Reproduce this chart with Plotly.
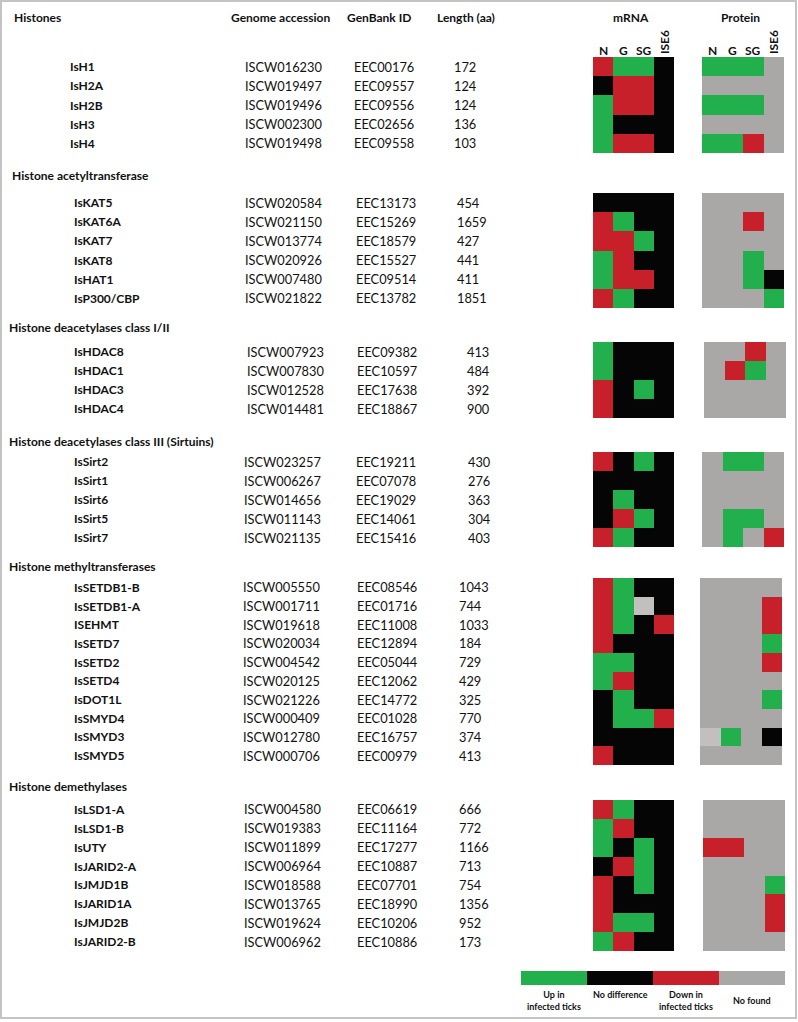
import plotly.graph_objects as go

# ---------------- data ----------------
section_titles = ["Histones", "Histone acetyltransferase", "Histone deacetylases class I/II",
                  "Histone deacetylases class III (Sirtuins)", "Histone methyltransferases",
                  "Histone demethylases"]

names_h = ["IsH1", "IsH2A", "IsH2B", "IsH3", "IsH4"]
acc_h = ["ISCW016230", "ISCW019497", "ISCW019496", "ISCW002300", "ISCW019498"]
gb_h = ["EEC00176", "EEC09557", "EEC09556", "EEC02656", "EEC09558"]
len_h = [172, 124, 124, 136, 103]
mrna_h = ["RGGK", "KRRK", "GRRK", "GKKK", "GRRK"]
prot_h = ["GGGA", "AAAA", "GGGA", "AAAA", "GGRA"]

names_hat = ["IsKAT5", "IsKAT6A", "IsKAT7", "IsKAT8", "IsHAT1", "IsP300/CBP"]
acc_hat = ["ISCW020584", "ISCW021150", "ISCW013774", "ISCW020926", "ISCW007480", "ISCW021822"]
gb_hat = ["EEC13173", "EEC15269", "EEC18579", "EEC15527", "EEC09514", "EEC13782"]
len_hat = [454, 1659, 427, 441, 411, 1851]
mrna_hat = ["KKKK", "RGKK", "RRGK", "GRKK", "GRRK", "RGKK"]
prot_hat = ["AAAA", "AARA", "AAAA", "AAGA", "AAGK", "AAAG"]

names_hdac = ["IsHDAC8", "IsHDAC1", "IsHDAC3", "IsHDAC4"]
acc_hdac = ["ISCW007923", "ISCW007830", "ISCW012528", "ISCW014481"]
gb_hdac = ["EEC09382", "EEC10597", "EEC17638", "EEC18867"]
len_hdac = [413, 484, 392, 900]
mrna_hdac = ["GKKK", "GKKK", "RKGK", "RKKK"]
prot_hdac = ["AARA", "ARGA", "AAAA", "AAAA"]

names_sirt = ["IsSirt2", "IsSirt1", "IsSirt6", "IsSirt5", "IsSirt7"]
acc_sirt = ["ISCW023257", "ISCW006267", "ISCW014656", "ISCW011143", "ISCW021135"]
gb_sirt = ["EEC19211", "EEC07078", "EEC19029", "EEC14061", "EEC15416"]
len_sirt = [430, 276, 363, 304, 403]
mrna_sirt = ["RKGK", "KKKK", "KGKK", "KRGK", "RGKK"]
prot_sirt = ["AGGA", "AAAA", "AAAA", "AGGA", "AGAR"]

names_hmt = ["IsSETDB1-B", "IsSETDB1-A", "ISEHMT", "IsSETD7", "IsSETD2", "IsSETD4",
             "IsDOT1L", "IsSMYD4", "IsSMYD3", "IsSMYD5"]
acc_hmt = ["ISCW005550", "ISCW001711", "ISCW019618", "ISCW020034", "ISCW004542", "ISCW020125",
           "ISCW021226", "ISCW000409", "ISCW012780", "ISCW000706"]
gb_hmt = ["EEC08546", "EEC01716", "EEC11008", "EEC12894", "EEC05044", "EEC12062",
          "EEC14772", "EEC01028", "EEC16757", "EEC00979"]
len_hmt = [1043, 744, 1033, 184, 729, 429, 325, 770, 374, 413]
mrna_hmt = ["RGKK", "RGLK", "RGKR", "RKKK", "GGKK", "GRKK", "KGKK", "KGGR", "KKKK", "RKKK"]
prot_hmt = ["AAAA", "AAAR", "AAAR", "AAAG", "AAAR", "AAAA", "AAAG", "AAAA", "LGAK", "AAAA"]

names_hdm = ["IsLSD1-A", "IsLSD1-B", "IsUTY", "IsJARID2-A", "IsJMJD1B", "IsJARID1A",
             "IsJMJD2B", "IsJARID2-B"]
acc_hdm = ["ISCW004580", "ISCW019383", "ISCW011899", "ISCW006964", "ISCW018588", "ISCW013765",
           "ISCW019624", "ISCW006962"]
gb_hdm = ["EEC06619", "EEC11164", "EEC17277", "EEC10887", "EEC07701", "EEC18990",
          "EEC10206", "EEC10886"]
len_hdm = [666, 772, 1166, 713, 754, 1356, 952, 173]
mrna_hdm = ["RGKK", "GRKK", "GKGK", "KRGK", "RKGK", "RKKK", "RGGK", "GRKK"]
prot_hdm = ["AAAA", "AAAA", "RRAA", "AAAA", "AAAG", "AAAR", "AAAR", "AAAA"]

column_headers = ["Genome accession", "GenBank ID", "Length (aa)"]
block_headers = ["mRNA", "Protein"]
sample_labels = ["N", "G", "SG", "ISE6"]
legend_codes = ["G", "K", "R", "A"]
legend_labels = ["Up in<br>infected ticks", "No difference", "Down in<br>infected ticks", "No found"]

# ---------------- styles / layout ----------------
code_val = {"G": 0, "K": 1, "R": 2, "A": 3, "L": 4}
GREEN, BLACK, RED, GRAY, LGRAY = "#21b04b", "#050505", "#c8202a", "#aaa7a7", "#c2bfbf"
cs = [[0.0, GREEN], [0.2, GREEN], [0.2, BLACK], [0.4, BLACK], [0.4, RED], [0.6, RED],
      [0.6, GRAY], [0.8, GRAY], [0.8, LGRAY], [1.0, LGRAY]]

FONT = "Lato"
FS = 12
FS_REG = 12.8

sections = [
    dict(names=names_h, acc=acc_h, gb=gb_h, ln=len_h, m=mrna_h, p=prot_h,
         title_xy=(12, 17), top=57, bottom=153, name_x=68, acc_x=243, gb_x=352, len_x=452, p_left=702),
    dict(names=names_hat, acc=acc_hat, gb=gb_hat, ln=len_hat, m=mrna_hat, p=prot_hat,
         title_xy=(10, 175), top=193, bottom=308, name_x=72, acc_x=243, gb_x=354, len_x=455, p_left=702),
    dict(names=names_hdac, acc=acc_hdac, gb=gb_hdac, ln=len_hdac, m=mrna_hdac, p=prot_hdac,
         title_xy=(7, 327), top=342, bottom=418, name_x=72, acc_x=245, gb_x=355, len_x=465, p_left=704),
    dict(names=names_sirt, acc=acc_sirt, gb=gb_sirt, ln=len_sirt, m=mrna_sirt, p=prot_sirt,
         title_xy=(7, 441), top=452, bottom=547, name_x=72, acc_x=242, gb_x=354, len_x=466, p_left=702),
    dict(names=names_hmt, acc=acc_hmt, gb=gb_hmt, ln=len_hmt, m=mrna_hmt, p=prot_hmt,
         title_xy=(7, 566), top=578, bottom=765, name_x=72, acc_x=241, gb_x=355, len_x=457, p_left=700),
    dict(names=names_hdm, acc=acc_hdm, gb=gb_hdm, ln=len_hdm, m=mrna_hdm, p=prot_hdm,
         title_xy=(7, 786), top=800, bottom=951, name_x=72, acc_x=242, gb_x=355, len_x=457, p_left=703),
]

M_LEFT, M_DX = 593, 20.3
P_DX = 20.5

fig = go.Figure()
ann = []

def add_text(x, y, t, bold=False, size=None, xanchor="left", angle=0, color="#111111"):
    if size is None:
        size = FS if bold else FS_REG
    ann.append(dict(x=x, y=y, xref="x", yref="y", text=(f"<b>{t}</b>" if bold else t),
                    showarrow=False, xanchor=xanchor, yanchor="middle", textangle=angle,
                    font=dict(family=FONT, size=size, color=color)))

for i, s in enumerate(sections):
    n = len(s["names"])
    dy = (s["bottom"] - s["top"]) / n
    ys = [s["top"] + dy * (k + 0.5) for k in range(n)]
    add_text(s["title_xy"][0], s["title_xy"][1], section_titles[i], bold=True)
    for k in range(n):
        add_text(s["name_x"], ys[k], s["names"][k], bold=True)
        add_text(s["acc_x"], ys[k], s["acc"][k])
        add_text(s["gb_x"], ys[k], s["gb"][k])
        add_text(s["len_x"], ys[k], str(s["ln"][k]))
    zm = [[code_val[c] for c in row] for row in s["m"]]
    zp = [[code_val[c] for c in row] for row in s["p"]]
    for z, left, dx in ((zm, M_LEFT, M_DX), (zp, s["p_left"], P_DX)):
        fig.add_trace(go.Heatmap(z=z, x0=left + dx / 2, dx=dx, y0=ys[0], dy=dy,
                                 colorscale=cs, zmin=-0.5, zmax=4.5, showscale=False,
                                 hoverinfo="skip"))

# column headers
for t, x in zip(column_headers, [280, 379, 466]):
    add_text(x, 17, t, bold=True, xanchor="center")
for t, x in zip(block_headers, [631, 740]):
    add_text(x, 17, t, bold=True, xanchor="center")
for base in (M_LEFT, 702):
    for j, t in enumerate(sample_labels):
        cx = base + 20.3 * (j + 0.5)
        if t == "ISE6":
            add_text(cx, 42, t, bold=True, angle=-90, xanchor="center")
        else:
            add_text(cx, 50, t, bold=True, xanchor="center")

# legend bar
LG_LEFT, LG_DX = 521, 66
fig.add_trace(go.Heatmap(z=[[code_val[c] for c in legend_codes]], x0=LG_LEFT + LG_DX / 2, dx=LG_DX,
                         y0=978, dy=14, colorscale=cs, zmin=-0.5, zmax=4.5, showscale=False,
                         hoverinfo="skip"))
for j, t in enumerate(legend_labels):
    cx = LG_LEFT + LG_DX * (j + 0.5)
    if "<br>" in t:
        ann.append(dict(x=cx, y=1000, xref="x", yref="y", text=f"<b>{t}</b>", showarrow=False,
                        xanchor="center", yanchor="middle",
                        font=dict(family=FONT, size=9, color="#111111")))
    else:
        yy = 994 if t == "No difference" else 1000
        add_text(cx, yy, t, bold=True, size=9, xanchor="center")

fig.update_layout(
    width=798, height=1022, margin=dict(l=0, r=0, t=0, b=0),
    paper_bgcolor="white", plot_bgcolor="white",
    xaxis=dict(range=[0, 798], visible=False, fixedrange=True),
    yaxis=dict(range=[1022, 0], visible=False, fixedrange=True),
    annotations=ann,
    shapes=[dict(type="rect", xref="x", yref="y", x0=1, y0=1, x1=796, y1=1018,
                 line=dict(color="#c4c4c4", width=2))],
)

fig.write_html("out.html", config={"displayModeBar": False},
               post_script="document.body.style.margin='0';")
